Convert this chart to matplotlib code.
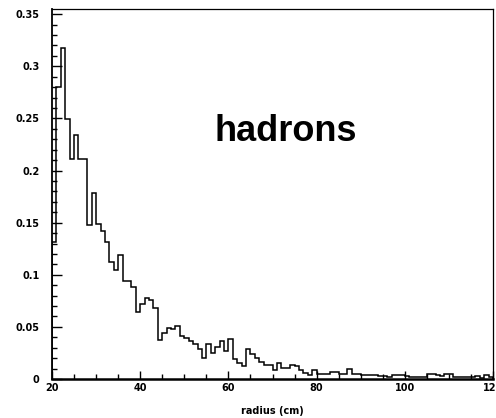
import numpy as np
import matplotlib
matplotlib.use("Agg")
import matplotlib.pyplot as plt
from matplotlib.ticker import MultipleLocator, FixedLocator

# Radial distribution of hadrons, 1 cm bins from 20 to 120 cm
bin_edges = np.arange(20, 121, 1)
hadron_fraction = [
    0.131, 0.280, 0.318, 0.249, 0.211, 0.234, 0.211, 0.211, 0.148, 0.178,
    0.149, 0.142, 0.131, 0.112, 0.105, 0.119, 0.094, 0.094, 0.088, 0.064,
    0.072, 0.078, 0.076, 0.068, 0.037, 0.044, 0.049, 0.048, 0.051, 0.041,
    0.039, 0.036, 0.034, 0.029, 0.020, 0.034, 0.025, 0.031, 0.036, 0.027,
    0.038, 0.019, 0.015, 0.012, 0.029, 0.024, 0.020, 0.016, 0.013, 0.013,
    0.009, 0.015, 0.011, 0.0105, 0.0135, 0.0125, 0.009, 0.006, 0.004, 0.009,
    0.005, 0.0045, 0.0045, 0.0065, 0.0065, 0.005, 0.005, 0.0095, 0.005, 0.005,
    0.004, 0.004, 0.004, 0.0035, 0.003, 0.003, 0.002, 0.004, 0.0035, 0.004,
    0.003, 0.002, 0.002, 0.002, 0.002, 0.005, 0.005, 0.0035, 0.003, 0.005,
    0.005, 0.002, 0.002, 0.0015, 0.0015, 0.002, 0.003, 0.001, 0.004, 0.002,
]
x_ticks = [20, 40, 60, 80, 100, 120]
y_ticks = [0, 0.05, 0.1, 0.15, 0.2, 0.25, 0.3, 0.35]
y_tick_labels = ["0", "0.05", "0.1", "0.15", "0.2", "0.25", "0.3", "0.35"]

fig = plt.figure(figsize=(4.96, 4.18), dpi=100)
ax = fig.add_axes([52 / 496, 39 / 418, 441 / 496, 370 / 418])

ax.stairs(hadron_fraction, bin_edges, color="black", linewidth=1.1, baseline=0)

ax.set_xlim(20, 120)
ax.set_ylim(0, 0.355)

ax.xaxis.set_major_locator(FixedLocator(x_ticks))
ax.xaxis.set_minor_locator(MultipleLocator(5))
ax.yaxis.set_major_locator(FixedLocator(y_ticks))
ax.yaxis.set_minor_locator(MultipleLocator(0.01))
ax.set_yticklabels(y_tick_labels)

tick_font = dict(family="DejaVu Sans", weight="bold", size=7)
for lab in ax.get_xticklabels() + ax.get_yticklabels():
    lab.set_fontproperties(matplotlib.font_manager.FontProperties(**tick_font))

ax.tick_params(axis="x", which="major", direction="in", length=6, width=1.0, pad=3)
ax.tick_params(axis="x", which="minor", direction="in", length=3.5, width=1.0)
ax.tick_params(axis="y", which="major", direction="in", length=7, width=1.0, pad=9)
ax.tick_params(axis="y", which="minor", direction="in", length=3.5, width=1.0)

ax.spines["bottom"].set_linewidth(1.8)
ax.spines["left"].set_linewidth(1.3)
ax.spines["top"].set_linewidth(0.9)
ax.spines["right"].set_linewidth(0.9)

ax.set_xlabel("radius (cm)", fontdict=tick_font, labelpad=9)

ax.text(0.53, 0.668, "hadrons", transform=ax.transAxes, ha="center", va="center",
        fontsize=26, fontweight="bold", family="Liberation Sans")

fig.savefig("out.png", dpi=100)
